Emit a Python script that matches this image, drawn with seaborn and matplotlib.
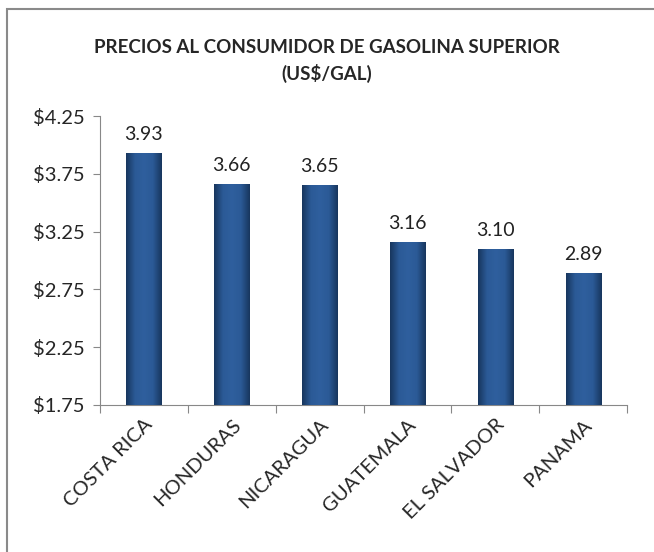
import matplotlib
matplotlib.use("Agg")
import matplotlib.pyplot as plt
import seaborn as sns
import numpy as np
import pandas as pd
from matplotlib.patches import Rectangle
from matplotlib.colors import LinearSegmentedColormap

countries = ["COSTA RICA", "HONDURAS", "NICARAGUA", "GUATEMALA", "EL SALVADOR", "PANAMA"]
prices = [3.93, 3.66, 3.65, 3.16, 3.10, 2.89]
yticks = [1.75, 2.25, 2.75, 3.25, 3.75, 4.25]
title = "PRECIOS AL CONSUMIDOR DE GASOLINA SUPERIOR\n(US$/GAL)"

df = pd.DataFrame({"country": countries, "price": prices})

sns.set_theme(style="white")
plt.rcParams['font.family'] = ['Lato', 'DejaVu Sans']

fig = plt.figure(figsize=(6.54, 5.52), dpi=100)
ax = fig.add_axes([100/654, 1-405/552, 527/654, 289/552])

sns.barplot(data=df, x="country", y="price", color="#1F497D", width=0.4, ax=ax,
            saturation=1, bottom=0)
ax.set_ylim(1.75, 4.25)
ax.set_xlim(-0.5, len(countries) - 0.5)

# gradient shading on bars
cmap = LinearSegmentedColormap.from_list("bar", ["#17365D", "#2B5A96", "#2F5F9E", "#2B5A96", "#17365D"])
grad = np.linspace(0, 1, 256).reshape(1, -1)
for p in ax.patches:
    x0, y0 = p.get_x(), 1.75
    w, h = p.get_width(), p.get_height()
    top = p.get_y() + h
    im = ax.imshow(grad, extent=[x0, x0 + w, y0, top], aspect="auto", cmap=cmap, zorder=3)
    im.set_clip_path(p)
    p.set_edgecolor("#1A3A66")
    p.set_linewidth(0.6)
    ax.text(x0 + w/2, top + 0.09, f"{top:.2f}", ha="center", va="bottom", fontsize=14, color="#222222")

ax.set_ylim(1.75, 4.25)
ax.set_xlim(-0.5, len(countries) - 0.5)

ax.set_yticks(yticks)
ax.set_yticklabels([f"${v:.2f}" for v in yticks], fontsize=14.5)
ax.set_xticks(range(len(countries)))
ax.set_xticklabels(countries, rotation=45, ha="right", rotation_mode="anchor", fontsize=14.5)
ax.set_xticks(np.arange(-0.5, len(countries)), minor=True)
ax.tick_params(axis="x", which="major", length=0, pad=8)
ax.tick_params(axis="x", which="minor", length=6, width=0.8, color="#888888", direction="out", bottom=True)
ax.tick_params(axis="y", length=5, width=0.8, color="#888888", direction="out", left=True, pad=6)
ax.set_xlabel("")
ax.set_ylabel("")
for s in ["top", "right"]:
    ax.spines[s].set_visible(False)
for s in ["left", "bottom"]:
    ax.spines[s].set_color("#888888")
    ax.spines[s].set_linewidth(0.8)

fig.text(327/654, 1-61/552, title, ha="center", va="center", fontsize=13.5,
         fontweight="bold", linespacing=1.45)

fig.patches.append(Rectangle((7/654, -0.02), 1.02, 1 - 9/552 + 0.02, transform=fig.transFigure,
                             fill=False, edgecolor="#8a8a8a", linewidth=1.5))

fig.savefig("out.png", dpi=100)
